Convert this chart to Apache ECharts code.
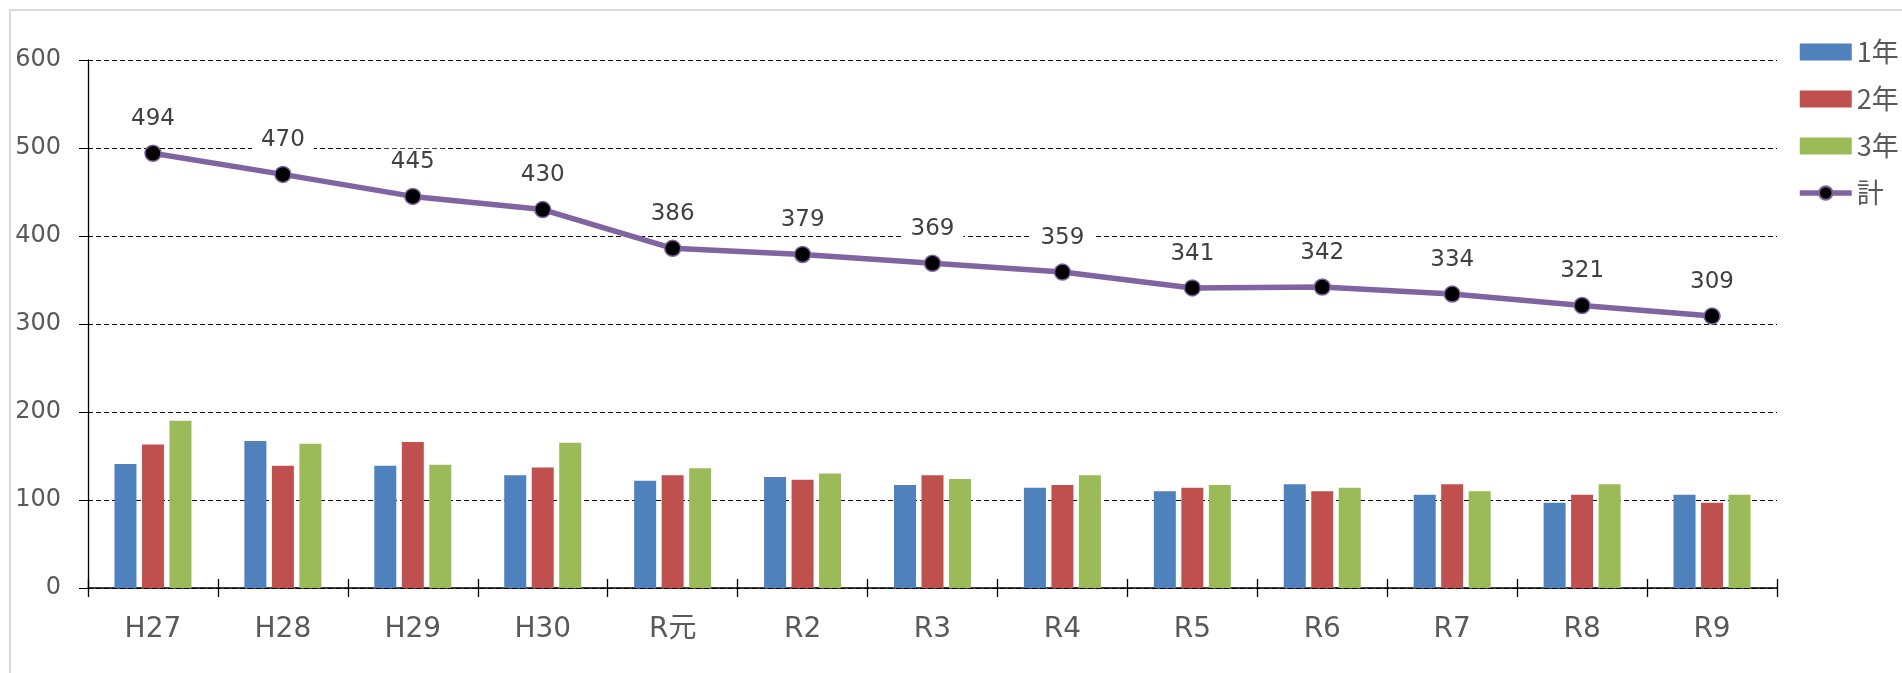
<!DOCTYPE html>
<html>
<head>
<meta charset="utf-8">
<script src="https://cdn.jsdelivr.net/npm/echarts@6/dist/echarts.min.js"></script>
<style>
  html, body { margin: 0; padding: 0; background: #fff; }
  #chart { width: 1902px; height: 673px; }
</style>
</head>
<body>
<div id="chart"></div>
<script>
// 年度
var years = ['H27', 'H28', 'H29', 'H30', 'R元', 'R2', 'R3', 'R4', 'R5', 'R6', 'R7', 'R8', 'R9'];
// 学年ごとの人数
var grade1 = [141, 167, 139, 128, 122, 126, 117, 114, 110, 118, 106, 97, 106];
var grade2 = [163, 139, 166, 137, 128, 123, 128, 117, 114, 110, 118, 106, 97];
var grade3 = [190, 164, 140, 165, 136, 130, 124, 128, 117, 114, 110, 118, 106];
// 計
var total = [494, 470, 445, 430, 386, 379, 369, 359, 341, 342, 334, 321, 309];

var chart = echarts.init(document.getElementById('chart'));

var numFont = 'DejaVu Sans, Noto Sans CJK JP, sans-serif';

function barSeries(name, data, color) {
  return {
    name: name,
    type: 'bar',
    xAxisIndex: 0,
    data: data,
    barWidth: 22,
    barGap: '25%',
    itemStyle: { color: color },
    emphasis: { disabled: true }
  };
}

var option = {
  backgroundColor: '#fff',
  animation: false,
  graphic: [{
    type: 'rect',
    shape: { x: 10, y: 10, width: 1920, height: 700 },
    style: { fill: 'none', stroke: '#d9d9d9', lineWidth: 2 },
    silent: true
  }],
  legend: {
    orient: 'vertical',
    left: 1792,
    top: 33,
    itemWidth: 52,
    itemHeight: 17,
    itemGap: 19,
    itemTextGap: 9,
    textStyle: {
      fontSize: 27,
      lineHeight: 28,
      color: '#595959',
      fontFamily: 'Noto Sans CJK JP, sans-serif'
    },
    data: [
      { name: '1年', icon: 'rect' },
      { name: '2年', icon: 'rect' },
      { name: '3年', icon: 'rect' },
      { name: '計', lineStyle: { width: 5.5 } }
    ]
  },
  grid: {
    left: 88,
    right: 125,
    top: 60,
    bottom: 85,
    containLabel: false
  },
  xAxis: [{
    type: 'category',
    data: years,
    axisLine: { lineStyle: { color: '#000', width: 1.5 } },
    axisTick: { show: true, inside: false, length: 9, lineStyle: { color: '#000', width: 1.3 } },
    axisLabel: {
      margin: 28,
      fontSize: 28,
      color: '#595959',
      fontFamily: numFont
    },
    splitLine: { show: false }
  }, {
    type: 'category',
    data: years,
    position: 'bottom',
    axisLine: { show: false },
    axisTick: { show: true, inside: true, length: 9, lineStyle: { color: '#000', width: 1.3 } },
    axisLabel: { show: false },
    splitLine: { show: false }
  }],
  yAxis: {
    type: 'value',
    min: 0,
    max: 600,
    interval: 100,
    axisLine: { show: true, lineStyle: { color: '#000', width: 1.3 } },
    axisTick: { show: true, length: 9, lineStyle: { color: '#000', width: 1 } },
    axisLabel: {
      margin: 27,
      fontSize: 24,
      color: '#595959',
      fontFamily: numFont
    },
    splitLine: {
      show: true,
      lineStyle: { color: '#000', type: [5, 3], width: 1 }
    }
  },
  series: [
    barSeries('1年', grade1, '#4f81bd'),
    barSeries('2年', grade2, '#c0504d'),
    barSeries('3年', grade3, '#9bbb59'),
    {
      name: '計',
      type: 'line',
      xAxisIndex: 0,
      data: total,
      symbol: 'circle',
      symbolSize: 16,
      lineStyle: { color: '#8064a2', width: 5.5 },
      itemStyle: { color: '#000', borderColor: '#8064a2', borderWidth: 1.5 },
      label: {
        show: true,
        position: 'top',
        distance: 12,
        fontSize: 23,
        color: '#404040',
        fontFamily: numFont,
        backgroundColor: '#fff',
        padding: [2, 9]
      },
      emphasis: { disabled: true },
      z: 5
    }
  ]
};

chart.setOption(option);
</script>
</body>
</html>
